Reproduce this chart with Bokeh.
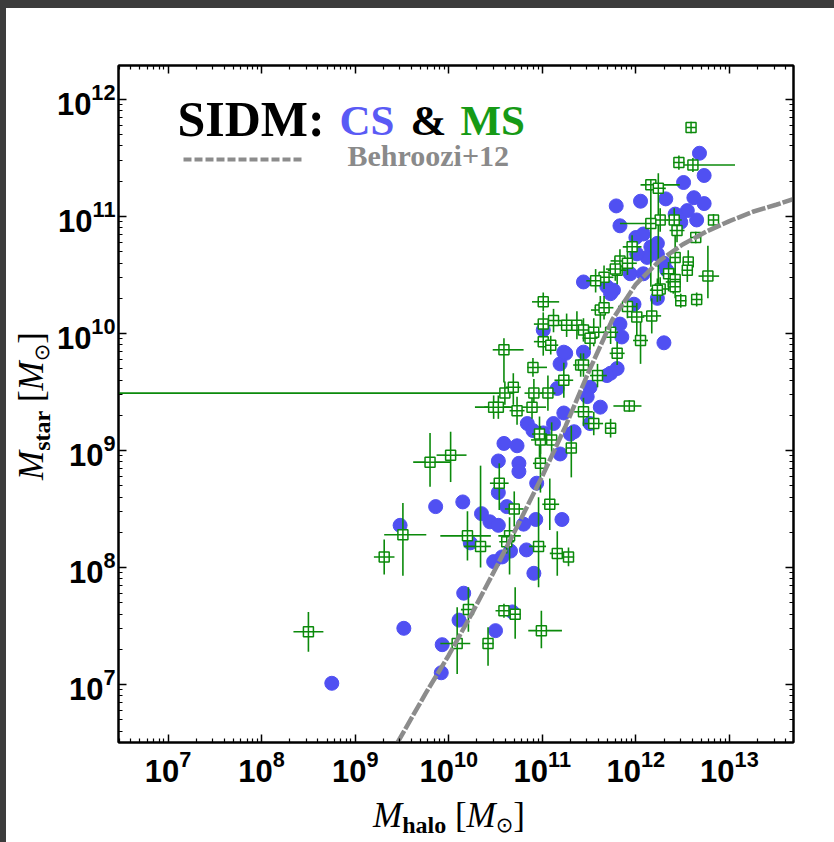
import numpy as np
from bokeh.plotting import figure
from bokeh.models import (FixedTicker, LogTickFormatter, LogAxis, Label, Arrow,
                          ColumnDataSource, Div)
from bokeh.layouts import column, row
from bokeh.embed import file_html
from bokeh.resources import INLINE

# ---------------- data (log10 values) ----------------
# CS sample (blue filled circles): log10 Mhalo, log10 Mstar
cs_log_mhalo = [8.75, 9.52, 9.86, 10.15, 9.48, 10.35, 10.44, 10.53, 10.53, 10.75,
                10.75, 10.59, 10.73, 10.16, 10.11, 9.93, 9.92, 10.50, 10.68, 10.48,
                10.57, 10.66, 10.83, 10.91, 10.93, 11.21, 10.23, 10.80, 10.94, 10.53,
                10.62, 10.84, 10.90, 11.01, 11.19, 11.23, 11.44, 11.76, 12.30, 12.23,
                11.73, 11.80, 11.51, 11.48, 11.19, 11.25, 11.16, 11.12, 11.34, 11.01,
                11.83, 11.98, 12.23, 12.33, 11.51, 11.62, 12.68, 12.73, 12.51, 12.05,
                11.79, 12.32, 12.62, 12.73, 12.55, 12.42, 12.48, 12.65, 11.83, 12.00,
                12.08, 12.23, 12.30, 12.16, 12.12, 11.69, 12.01, 11.94, 12.08, 11.69,
                11.44, 11.23, 11.30, 11.85, 11.73]
cs_log_mstar = [7.01, 7.48, 8.52, 8.56, 8.36, 8.46, 8.39, 8.36, 8.91, 8.89,
                8.82, 9.06, 9.04, 7.78, 7.55, 7.34, 7.10, 7.46, 7.62, 8.05,
                8.09, 8.14, 8.15, 7.95, 8.41, 8.41, 8.21, 8.37, 8.72, 8.64,
                8.52, 9.23, 9.17, 9.15, 8.97, 9.32, 10.44, 10.37, 9.92, 10.30,
                9.66, 9.70, 9.54, 9.46, 9.74, 9.83, 9.53, 9.23, 9.16, 10.03,
                10.08, 10.25, 10.68, 10.54, 9.23, 9.37, 11.54, 11.35, 11.29, 11.13,
                11.09, 11.15, 11.16, 11.11, 11.05, 11.02, 10.95, 10.97, 10.92, 10.82,
                10.85, 10.77, 10.60, 10.74, 10.65, 10.40, 10.68, 10.51, 10.51, 9.64,
                9.84, 9.84, 9.14, 9.97, 10.34]

# MS sample (green open squares with error bars): log10 values and errors (dex)
ms_log_mhalo = [8.50, 9.31, 9.51, 9.80, 10.02, 10.20, 10.34, 10.54, 10.70, 10.65,
                10.62, 10.96, 11.08, 11.16, 11.28, 10.21, 10.09, 10.42, 10.59, 10.71,
                10.99, 10.48, 10.89, 10.98, 11.10, 11.01, 10.59, 10.90, 11.01, 11.12,
                11.01, 11.09, 11.26, 11.37, 11.44, 11.55, 10.60, 10.69, 10.91, 11.06,
                10.53, 10.73, 10.97, 10.98, 11.23, 11.41, 11.59, 11.44, 11.55, 11.31,
                11.73, 11.93, 11.62, 11.66, 11.80, 11.83, 11.91, 12.01, 12.05, 12.17,
                12.26, 12.40, 11.57, 12.59, 12.46, 12.61, 12.16, 12.24, 12.26, 12.16,
                12.41, 12.44, 12.83, 12.64, 11.96, 11.78, 12.42, 12.56, 12.55, 12.77,
                12.35, 12.42, 12.42, 12.23, 12.48, 12.65, 11.91, 11.66, 11.73, 11.80,
                11.44, 11.51]
ms_log_mstar = [7.45, 8.09, 8.28, 8.90, 8.96, 8.27, 8.18, 8.72, 8.50, 8.27,
                8.22, 8.18, 8.54, 8.12, 8.09, 7.64, 7.35, 7.35, 7.63, 7.60,
                7.46, 9.37, 9.37, 9.09, 9.09, 10.27, 9.86, 9.71, 10.08, 10.11,
                9.93, 9.90, 10.07, 10.07, 10.03, 10.01, 9.49, 9.54, 9.49, 9.49,
                9.37, 9.34, 9.14, 8.89, 9.60, 9.73, 9.64, 9.33, 9.23, 9.02,
                9.19, 9.38, 10.20, 10.48, 10.54, 10.62, 10.60, 10.14, 9.94, 10.15,
                10.38, 10.44, 10.45, 11.76, 11.46, 11.44, 11.27, 11.24, 10.97, 10.94,
                10.97, 10.88, 10.97, 10.82, 10.74, 10.55, 10.65, 10.61, 10.54, 10.49,
                10.51, 10.46, 10.40, 10.37, 10.28, 10.29, 10.23, 10.22, 10.01, 9.83,
                9.73, 9.96]
ms_xerr_lo = [.16, .11, .20, .18, .15, .29, .18, .10, .10, .12,
              .08, .10, .08, .08, .06, .08, .18, .06, .09, .06,
              .14, .20, .15, .10, .10, .12, .12, .06, .10, .12,
              .10, .08, .12, .10, .10, .12, 5.0, .08, .10, .08,
              .15, .08, .08, .08, .10, .08, .08, .10, .10, .06,
              .05, .17, .10, .10, .10, .10, .10, .10, .08, .10,
              .10, .08, .10, .05, .06, .10, .11, .08, .08, .33,
              .08, .08, .05, .05, .10, .10, .06, .06, .06, .10,
              .08, .06, .06, .08, .06, .06, .10, .10, .08, .08,
              .08, .08]
ms_xerr_hi = [.16, .11, .25, .22, .17, .25, .11, .10, .10, .12,
              .08, .08, .10, .08, .06, .08, .14, .06, .10, .06,
              .22, .20, .15, .10, .10, .17, .21, .15, .10, .12,
              .12, .08, .12, .10, .12, .12, .10, .08, .12, .08,
              .12, .08, .08, .08, .10, .08, .10, .10, .10, .06,
              .05, .13, .10, .10, .10, .10, .10, .08, .08, .10,
              .10, .08, .10, .05, .06, .45, .31, .08, .08, .08,
              .08, .08, .05, .05, .10, .10, .06, .06, .06, .12,
              .08, .06, .06, .08, .06, .06, .10, .10, .08, .08,
              .08, .08]
ms_yerr_lo = [.17, .15, .35, .21, .23, .21, .18, .23, .15, .33,
              .10, .35, .22, .19, .08, .19, .26, .19, .06, .21,
              .15, .10, .10, .12, .15, .08, .28, .08, .10, .10,
              .12, .08, .10, .12, .10, .12, .10, .15, .12, .15,
              .10, .12, .20, .25, .15, .10, .10, .12, .10, .25,
              .08, .05, .15, .10, .12, .10, .10, .20, .20, .15,
              .10, .10, .10, .05, .06, .06, .05, .85, .10, .54,
              .10, .10, .05, .05, .10, .10, .20, .10, .10, .19,
              .15, .10, .10, .10, .06, .06, .10, .10, .10, .10,
              .10, .10]
ms_yerr_hi = [.17, .15, .27, .25, .20, .21, .69, .17, .15, .16,
              .10, .42, .22, .19, .08, .19, .31, .14, .06, .23,
              .17, .10, .10, .12, .15, .08, .10, .08, .10, .10,
              .10, .08, .10, .12, .10, .12, .10, .12, .12, .15,
              .10, .12, .15, .20, .15, .10, .10, .12, .10, .19,
              .08, .05, .12, .10, .12, .10, .10, .12, .20, .15,
              .10, .10, .10, .05, .06, .06, .05, .13, .10, .36,
              .10, .10, .05, .05, .10, .10, .20, .10, .10, .26,
              .10, .10, .10, .10, .06, .06, .10, .10, .10, .10,
              .10, .10]

# Behroozi+12 relation
beh_log_mhalo = [9.45, 9.75, 10.0, 10.25, 10.5, 10.75, 11.0, 11.25, 11.5, 11.75,
                 12.0, 12.25, 12.5, 12.75, 13.0, 13.25, 13.5, 13.69]
beh_log_mstar = [6.50, 6.92, 7.25, 7.61, 7.99, 8.38, 8.78, 9.21, 9.68, 10.12,
                 10.42, 10.62, 10.76, 10.87, 10.96, 11.04, 11.10, 11.15]

# axis ticks (exponents)
x_tick_exp = [7, 8, 9, 10, 11, 12, 13]
y_tick_exp = [7, 8, 9, 10, 11, 12]

# ---------------- styling ----------------
BLUE = "#5050f2"
GREEN = "#0b8a0b"
GREY = "#8c8c8c"
DARK = "#3c3c3c"

p = figure(x_axis_type="log", y_axis_type="log",
           x_range=(10 ** 6.47, 10 ** 13.685), y_range=(10 ** 6.504, 10 ** 12.29),
           frame_width=675, frame_height=677,
           min_border_left=66, min_border_right=41,
           min_border_top=57, min_border_bottom=53,
           output_backend="svg", toolbar_location=None,
           background_fill_color="white", border_fill_color="white")
p.grid.visible = False
p.outline_line_color = "black"
p.outline_line_width = 2

def minor_list(exps):
    lo, hi = min(exps) - 1, max(exps) + 1
    return [m * 10.0 ** k for k in range(lo, hi + 1) for m in range(2, 10)]

xt = FixedTicker(ticks=[10.0 ** k for k in x_tick_exp], minor_ticks=minor_list(x_tick_exp))
yt = FixedTicker(ticks=[10.0 ** k for k in y_tick_exp], minor_ticks=minor_list(y_tick_exp))

def style_axis(ax, ticker, labels=True):
    ax.ticker = ticker
    ax.formatter = LogTickFormatter()
    ax.major_tick_in = 8
    ax.major_tick_out = 0
    ax.minor_tick_in = 4
    ax.minor_tick_out = 0
    ax.major_tick_line_width = 1.5
    ax.minor_tick_line_width = 1.2
    ax.axis_line_width = 2
    ax.axis_line_color = "black"
    ax.major_tick_line_color = "black"
    ax.minor_tick_line_color = "black"
    if labels:
        ax.major_label_text_font = "Liberation Sans"
        ax.major_label_text_font_style = "bold"
        ax.major_label_text_font_size = "31px"
        ax.major_label_text_color = "black"
    else:
        ax.major_label_text_font_size = "0px"
        ax.major_label_text_alpha = 0

style_axis(p.xaxis[0], xt)
style_axis(p.yaxis[0], yt)
p.xaxis[0].major_label_standoff = 7
p.yaxis[0].major_label_standoff = 3

top_ax = LogAxis()
right_ax = LogAxis()
style_axis(top_ax, xt, labels=False)
style_axis(right_ax, yt, labels=False)
p.add_layout(top_ax, "above")
p.add_layout(right_ax, "right")

# ---------------- data glyphs ----------------
cs = ColumnDataSource(dict(x=10 ** np.array(cs_log_mhalo), y=10 ** np.array(cs_log_mstar)))
p.scatter("x", "y", source=cs, marker="circle", size=14,
          fill_color=BLUE, line_color=BLUE)

lx = np.array(ms_log_mhalo)
ly = np.array(ms_log_mstar)
ms = ColumnDataSource(dict(
    x=10 ** lx, y=10 ** ly,
    x0=10 ** (lx - np.array(ms_xerr_lo)), x1=10 ** (lx + np.array(ms_xerr_hi)),
    y0=10 ** (ly - np.array(ms_yerr_lo)), y1=10 ** (ly + np.array(ms_yerr_hi)),
))
p.segment(x0="x0", y0="y", x1="x1", y1="y", source=ms, line_color=GREEN, line_width=1.6)
p.segment(x0="x", y0="y0", x1="x", y1="y1", source=ms, line_color=GREEN, line_width=1.6)
p.scatter("x", "y", source=ms, marker="square_cross", size=10,
          fill_color="white", line_color=GREEN, line_width=1.5)

beh = ColumnDataSource(dict(x=10 ** np.array(beh_log_mhalo), y=10 ** np.array(beh_log_mstar)))
p.line("x", "y", source=beh, line_color=GREY, line_width=4.5, line_dash="14 2")

# ---------------- in-frame annotations (screen units relative to the frame) ----------------
# frame left = 118 px, frame bottom = 742 px in page coordinates
def L(text, px, py, size, color="black", font="Liberation Serif", style="bold"):
    p.add_layout(Label(x=px - 118, y=742 - py, x_units="screen", y_units="screen",
                       text=text, text_font=font, text_font_style=style,
                       text_font_size=f"{size}px", text_color=color,
                       text_baseline="alphabetic", text_align="left"))

L("SIDM:", 177, 118, 50)
L("CS", 339, 120, 43, color="#5a5af5")
L("&", 410, 120, 43)
L("MS", 460, 120, 43, color="#169a16")
L("Behroozi+12", 347, 155, 30, color="#8a8a8a")
p.add_layout(Arrow(start=None, end=None, x_start=183 - 118, y_start=742 - 159,
                   x_end=303 - 118, y_end=742 - 159, start_units="screen", end_units="screen",
                   line_color="#8c8c8c", line_width=4, line_dash="8 3"))

# ---------------- axis titles as styled HTML text ----------------
SERIF = "'Liberation Serif', 'Times New Roman', serif"
x_title_html = (
    f'<div style="position:relative; left:367px; top:1px; white-space:nowrap; '
    f'font-family:{SERIF}; font-size:35px; line-height:40px; color:black;">'
    '<i>M</i><span style="position:relative; top:6px; font-size:24px; font-weight:bold;">halo</span>'
    ' [<i>M</i><span style="position:relative; top:5px; font-size:21px; '
    'font-family:\'DejaVu Sans\';">\u2299</span>]</div>'
)
y_title_html = (
    f'<div style="position:absolute; left:6px; top:472px; white-space:nowrap; '
    'transform-origin:0 0; transform:rotate(-90deg); '
    f'font-family:{SERIF}; font-size:35px; line-height:40px; color:black;">'
    '<i>M</i><span style="position:relative; top:7px; font-size:24px; font-weight:bold;">star</span>'
    ' [<i>M</i><span style="position:relative; top:6px; font-size:21px; '
    'font-family:\'DejaVu Sans\';">\u2299</span>]</div>'
)
xlab = Div(text=x_title_html, width=828, height=47, margin=0,
           styles={"overflow": "visible"})
ylab = Div(text=y_title_html, width=46, height=787, margin=0,
           styles={"overflow": "visible", "position": "relative"})

# dark screenshot border (top and left)
top_bar = Div(width=834, height=8, margin=0, styles={"background-color": DARK})
left_bar = Div(width=6, height=834, margin=0, styles={"background-color": DARK})

layout = column(top_bar,
                row(left_bar, column(row(ylab, p, spacing=0), xlab, spacing=0), spacing=0),
                spacing=0)

open("out.html", "w").write(file_html(layout, INLINE))
